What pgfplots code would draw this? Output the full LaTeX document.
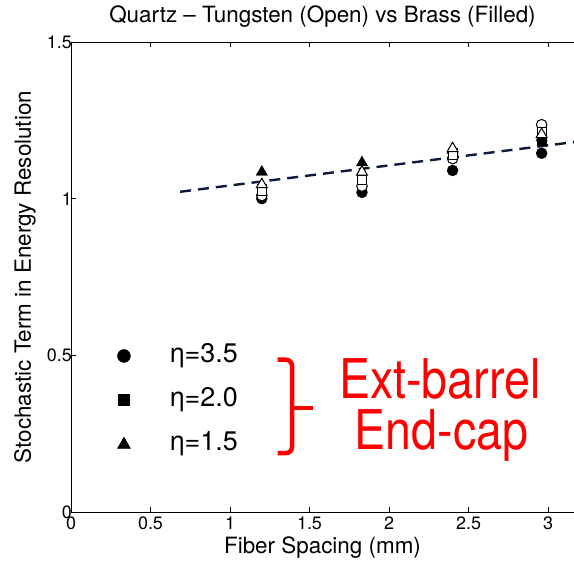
\documentclass[border=0pt]{standalone}
\usepackage{fontspec}
\setmainfont{TeX Gyre Heros}
\usepackage{graphicx}
\usepackage{pgfplots}
\pgfplotsset{compat=1.18}
\definecolor{navy}{RGB}{12,26,60}
\begin{document}
\begin{tikzpicture}
\begin{axis}[
  at={(0,0)}, anchor=south west,
  scale only axis, width=503bp, height=470bp,
  xmin=0, xmax=3.1635, ymin=0, ymax=1.5,
  xtick={0,0.5,1,1.5,2,2.5,3}, ytick={0,0.5,1,1.5},
  axis x line=box, axis y line*=left,
  x axis line style={-}, y axis line style={-},
  axis line style={line width=0.9bp},
  tick align=inside, major tick length=5bp,
  tick style={black, line width=0.7bp},
  /pgf/number format/assume math mode=true,
  ticklabel style={font=\fontsize{18}{20}\selectfont},
  xticklabel style={yshift=-3bp},
  yticklabel style={xshift=3bp},
  yticklabel style={inner sep=2bp},
  xticklabel style={inner sep=2bp},
  xlabel={Fiber Spacing (mm)},
  ylabel={Stochastic Term in Energy Resolution},
  every axis x label/.style={at={([yshift=-36bp]axis description cs:0.5,0)}, anchor=center, font=\fontsize{22.5}{25}\selectfont},
  every axis y label/.style={at={([xshift=-46bp]axis description cs:0,0.5)}, anchor=center, rotate=90, font=\fontsize{22.5}{25}\selectfont},
  title={Quartz -- Tungsten (Open) vs Brass (Filled)},
  title style={font=\fontsize{22.5}{25}\selectfont, at={([yshift=19bp]axis description cs:0.5,1)}, anchor=center},
]
% fit line
\addplot[navy, line width=2.4bp, dash pattern=on 11bp off 7bp] coordinates {(0.686,1.022) (3.17,1.181)};
% Brass (filled)
\addplot[only marks, mark=*, mark size=5.5bp, mark options={fill=black, draw=black}] coordinates {(1.2,1.00) (1.83,1.02) (2.40,1.09) (2.96,1.145)};
\addplot[only marks, mark=square*, mark size=4.6bp, mark options={fill=black, draw=black}] coordinates {(1.2,1.03) (1.83,1.05) (2.40,1.147) (2.96,1.185)};
\addplot[only marks, mark=triangle*, mark size=6.5bp, mark options={fill=black, draw=black}] coordinates {(1.2,1.085) (1.83,1.115) (2.40,1.155) (2.96,1.195)};
% Tungsten (open)
\addplot[only marks, mark=*, mark size=5.3bp, mark options={fill=white, draw=black, line width=1bp}] coordinates {(1.2,1.01) (1.83,1.04) (2.40,1.128) (2.96,1.236)};
\addplot[only marks, mark=square*, mark size=4.4bp, mark options={fill=white, draw=black, line width=1bp}] coordinates {(1.2,1.025) (1.83,1.06) (2.40,1.14) (2.96,1.212)};
\addplot[only marks, mark=triangle*, mark size=6.3bp, mark options={fill=white, draw=black, line width=1bp}] coordinates {(1.2,1.045) (1.83,1.085) (2.40,1.16) (2.96,1.205)};
% legend markers
\addplot[only marks, mark=*, mark size=6.5bp, mark options={fill=black, draw=black}] coordinates {(0.333,0.498)};
\addplot[only marks, mark=square*, mark size=5.3bp, mark options={fill=black, draw=black}] coordinates {(0.333,0.358)};
\addplot[only marks, mark=triangle*, mark size=7.5bp, mark options={fill=black, draw=black}] coordinates {(0.333,0.215)};
\node[anchor=west, inner sep=0pt, font=\fontsize{27}{30}\selectfont] at (axis cs:0.62,0.498) {η=3.5};
\node[anchor=west, inner sep=0pt, font=\fontsize{27}{30}\selectfont] at (axis cs:0.62,0.358) {η=2.0};
\node[anchor=west, inner sep=0pt, font=\fontsize{27}{30}\selectfont] at (axis cs:0.62,0.218) {η=1.5};
% red brace
\draw[red, line width=4.5bp, rounded corners=6bp] (axis cs:1.30,0.486) -- (axis cs:1.39,0.486) -- (axis cs:1.39,0.188) -- (axis cs:1.30,0.188);
\draw[red, line width=4.5bp] (axis cs:1.39,0.332) -- (axis cs:1.52,0.332);
\node[red, anchor=base, inner sep=0pt, font=\fontsize{55}{57}\selectfont] at (axis cs:2.32,0.362) {\scalebox{0.85}[1]{Ext-barrel}};
\node[red, anchor=base, inner sep=0pt, font=\fontsize{55}{57}\selectfont] at (axis cs:2.33,0.198) {\scalebox{0.85}[1]{End-cap}};
\end{axis}
\pgfresetboundingbox
\path (-71bp,-49bp) rectangle (503bp,512bp);
\end{tikzpicture}
\end{document}
